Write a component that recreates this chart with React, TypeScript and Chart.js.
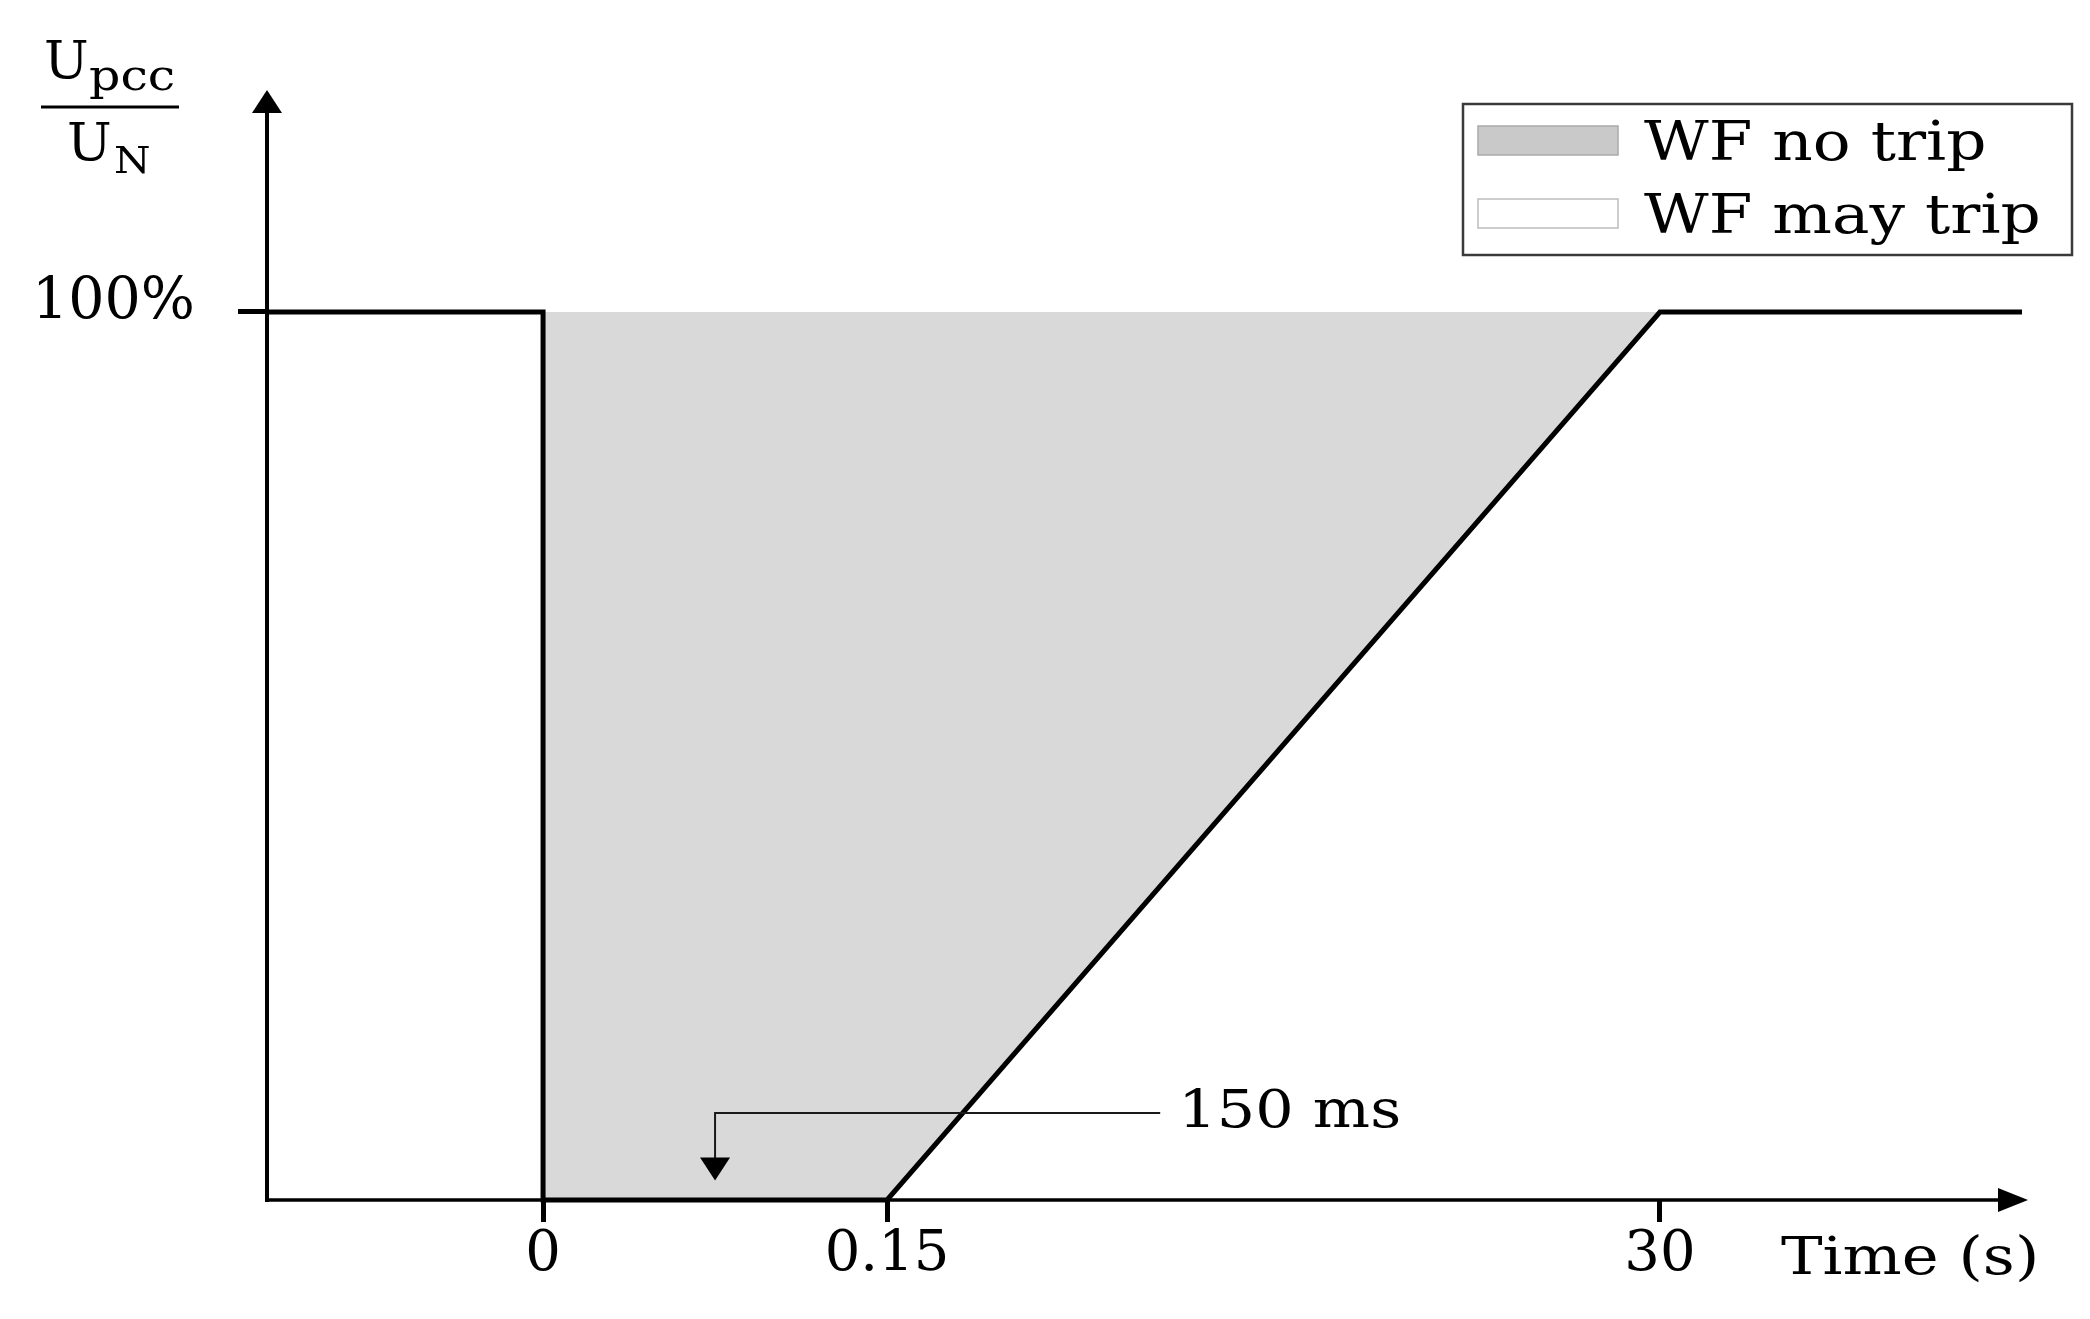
import React, { useEffect, useRef } from 'react';
import { Chart, registerables, LinearScale } from 'chart.js';

// ---------- data ----------
const timeTicks = [0, 0.15, 30];
const timeTickLabels = ['0', '0.15', '30'];
const voltageTicks = [100];
const voltageTickLabels = ['100%'];

// FRT boundary (black curve): time in s, voltage in % of U_N
const boundaryTime = [-1, 0, 0, 0.15, 30, 40];
const boundaryVoltage = [100, 100, 0, 0, 100, 100];

// lower edge of the "no trip" region (filled up to 100 %)
const noTripTime = [0, 0.15, 30];
const noTripVoltage = [0, 0, 100];

const seriesLabels = ['WF no trip', 'WF may trip'];

// "150 ms" annotation (data coordinates)
const annotationText = '150 ms';
const annotationArrowTime = 0.075;
const annotationTipVoltage = 2.2;
const annotationElbowVoltage = 9.8;
const annotationLineEndTime = 10.7;
const annotationTextTime = 11.4;

const xAxisTitle = 'Time (s)';
const yTitleNumerator = ['U', 'pcc'];
const yTitleDenominator = ['U', 'N'];

// ---------- schematic (piecewise) time axis layout ----------
const X_LAYOUT_VALUES = [-1, 0, 0.15, 30, 40];
const X_LAYOUT_FRACTIONS = [0, 0.1573, 0.3533, 0.7937, 1];

const FONT = 'DejaVu Serif';

class PiecewiseScale extends LinearScale {
  static id = 'piecewise';
  static defaults = LinearScale.defaults;
  toDecimal(value: number): number {
    const v = X_LAYOUT_VALUES;
    const f = X_LAYOUT_FRACTIONS;
    let i = 0;
    while (i < v.length - 2 && value > v[i + 1]) i++;
    return f[i] + ((value - v[i]) / (v[i + 1] - v[i])) * (f[i + 1] - f[i]);
  }
  getPixelForValue(value: any): number {
    if (value === null || value === undefined || isNaN(value)) return NaN;
    return this.getPixelForDecimal(this.toDecimal(+value));
  }
  getValueForPixel(pixel: number): number {
    const d = this.getDecimalForPixel(pixel);
    const v = X_LAYOUT_VALUES;
    const f = X_LAYOUT_FRACTIONS;
    let i = 0;
    while (i < f.length - 2 && d > f[i + 1]) i++;
    return v[i] + ((d - f[i]) / (f[i + 1] - f[i])) * (v[i + 1] - v[i]);
  }
}

Chart.register(...registerables, PiecewiseScale as any);

function stretchText(
  ctx: CanvasRenderingContext2D,
  text: string,
  x: number,
  y: number,
  size: number,
  sx: number
) {
  ctx.save();
  ctx.font = `${size}px "${FONT}"`;
  ctx.textAlign = 'left';
  ctx.textBaseline = 'alphabetic';
  ctx.translate(x, y);
  ctx.scale(sx, 1);
  ctx.fillText(text, 0, 0);
  ctx.restore();
}

const decorPlugin = {
  id: 'decor',
  afterDatasetsDraw(chart: any) {
    const ctx: CanvasRenderingContext2D = chart.ctx;
    const { left, right, top, bottom } = chart.chartArea;
    const xs = chart.scales.x;
    const ys = chart.scales.y;
    ctx.save();
    ctx.fillStyle = '#000';
    ctx.strokeStyle = '#000';

    // y axis with arrow
    ctx.lineWidth = 4;
    ctx.beginPath();
    ctx.moveTo(left, bottom + 2);
    ctx.lineTo(left, top + 20);
    ctx.stroke();
    ctx.beginPath();
    ctx.moveTo(left, top);
    ctx.lineTo(left - 15, top + 23);
    ctx.lineTo(left + 15, top + 23);
    ctx.closePath();
    ctx.fill();

    // x axis with arrow
    ctx.lineWidth = 3.5;
    ctx.beginPath();
    ctx.moveTo(left - 2, bottom);
    ctx.lineTo(right - 20, bottom);
    ctx.stroke();
    ctx.beginPath();
    ctx.moveTo(right + 6, bottom);
    ctx.lineTo(right - 24, bottom - 12);
    ctx.lineTo(right - 24, bottom + 12);
    ctx.closePath();
    ctx.fill();

    // annotation arrow
    const ax = xs.getPixelForValue(annotationArrowTime);
    const ay = ys.getPixelForValue(annotationElbowVoltage);
    const tipY = ys.getPixelForValue(annotationTipVoltage);
    const endX = xs.getPixelForValue(annotationLineEndTime);
    ctx.strokeStyle = '#1a1a1a';
    ctx.lineWidth = 2;
    ctx.beginPath();
    ctx.moveTo(endX, ay);
    ctx.lineTo(ax, ay);
    ctx.lineTo(ax, tipY - 20);
    ctx.stroke();
    ctx.beginPath();
    ctx.moveTo(ax, tipY);
    ctx.lineTo(ax - 15, tipY - 23);
    ctx.lineTo(ax + 15, tipY - 23);
    ctx.closePath();
    ctx.fill();

    ctx.fillStyle = '#000';
    stretchText(ctx, annotationText, xs.getPixelForValue(annotationTextTime), ay + 14, 53, 1.14);

    // x axis title
    stretchText(ctx, xAxisTitle, 1781, 1274, 52, 1.2);

    // y axis title (fraction)
    stretchText(ctx, yTitleNumerator[0], 44, 78, 52, 1.02);
    stretchText(ctx, yTitleNumerator[1], 89, 90, 43, 1.14);
    ctx.lineWidth = 3;
    ctx.strokeStyle = '#000';
    ctx.beginPath();
    ctx.moveTo(41, 107);
    ctx.lineTo(179, 107);
    ctx.stroke();
    stretchText(ctx, yTitleDenominator[0], 67, 160, 52, 1.02);
    stretchText(ctx, yTitleDenominator[1], 114, 173, 38, 1.1);

    // legend
    ctx.lineWidth = 2.5;
    ctx.strokeStyle = '#3a3a3a';
    ctx.strokeRect(1463, 104, 609, 151);
    const ds = chart.data.datasets.filter((d: any) => d.showInLegend);
    ds.forEach((d: any, i: number) => {
      const y = 126 + i * 73;
      ctx.fillStyle = d.legendFill;
      ctx.fillRect(1478, y, 140, 29);
      ctx.lineWidth = 1.5;
      ctx.strokeStyle = d.legendStroke;
      ctx.strokeRect(1478, y, 140, 29);
      ctx.fillStyle = '#000';
      stretchText(ctx, d.label, 1644, y + 34, 55, 1.144);
    });

    ctx.restore();
  },
};

export default function App() {
  const ref = useRef<HTMLCanvasElement>(null);
  useEffect(() => {
    if (!ref.current) return;
    const chart = new Chart(ref.current, {
      type: 'line',
      data: {
        datasets: [
          {
            label: seriesLabels[0],
            data: noTripTime.map((t, i) => ({ x: t, y: noTripVoltage[i] })),
            fill: { value: 100 },
            backgroundColor: '#d9d9d9',
            borderWidth: 0,
            borderColor: 'rgba(0,0,0,0)',
            pointRadius: 0,
            order: 2,
            showInLegend: true,
            legendFill: '#c9c9c9',
            legendStroke: '#a9a9a9',
          } as any,
          {
            label: seriesLabels[1],
            data: [],
            pointRadius: 0,
            showInLegend: true,
            legendFill: '#ffffff',
            legendStroke: '#bdbdbd',
          } as any,
          {
            label: 'boundary',
            data: boundaryTime.map((t, i) => ({ x: t, y: boundaryVoltage[i] })),
            borderColor: '#000',
            borderWidth: 5,
            fill: false,
            pointRadius: 0,
            tension: 0,
            clip: false,
            order: 1,
            borderJoinStyle: 'miter',
          } as any,
        ],
      },
      options: {
        animation: false,
        responsive: false,
        events: [],
        layout: { padding: { top: 90, right: 68, left: 0, bottom: 0 } },
        plugins: { legend: { display: false }, tooltip: { enabled: false } },
        scales: {
          x: {
            type: 'piecewise' as any,
            min: X_LAYOUT_VALUES[0],
            max: X_LAYOUT_VALUES[X_LAYOUT_VALUES.length - 1],
            bounds: 'data',
            afterBuildTicks: (axis: any) => {
              axis.ticks = timeTicks.map((v) => ({ value: v }));
            },
            afterFit: (axis: any) => {
              axis.height = 119;
            },
            border: { display: false },
            grid: {
              display: true,
              drawOnChartArea: false,
              drawTicks: true,
              tickLength: 22,
              tickWidth: 5,
              tickColor: '#000',
            },
            ticks: {
              autoSkip: false,
              maxRotation: 0,
              padding: 0,
              color: '#000',
              font: { family: FONT, size: 56 },
              callback: (_v: any, i: number) => timeTickLabels[i],
            },
          } as any,
          y: {
            type: 'linear',
            min: 0,
            max: 125,
            bounds: 'data',
            afterBuildTicks: (axis: any) => {
              axis.ticks = voltageTicks.map((v) => ({ value: v }));
            },
            afterFit: (axis: any) => {
              axis.width = 267;
            },
            border: { display: false },
            grid: {
              display: true,
              drawOnChartArea: false,
              drawTicks: true,
              tickLength: 29,
              tickWidth: 5,
              tickColor: '#000',
            },
            ticks: {
              padding: 43,
              labelOffset: -9,
              color: '#000',
              font: { family: FONT, size: 57 },
              callback: (_v: any, i: number) => voltageTickLabels[i],
            },
          },
        },
      },
      plugins: [decorPlugin],
    });
    return () => chart.destroy();
  }, []);
  return (
    <div style={{ position: 'fixed', left: 0, top: 0, width: 2090, height: 1319, background: '#fff' }}>
      <canvas ref={ref} width={2090} height={1319} style={{ display: 'block' }} />
    </div>
  );
}
